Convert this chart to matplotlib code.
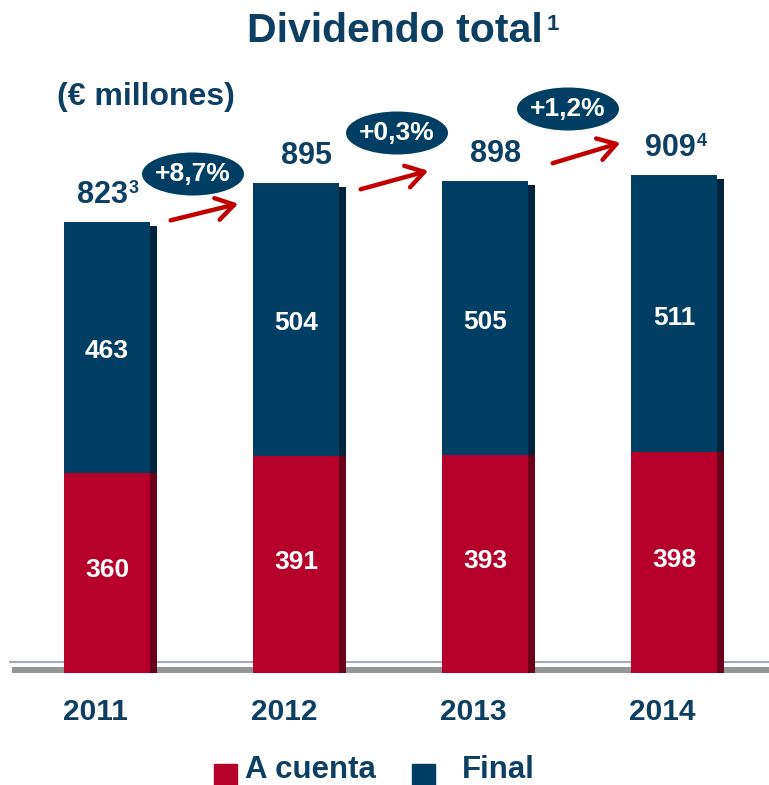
import matplotlib.pyplot as plt
from matplotlib.patches import Ellipse, FancyArrowPatch

plt.rcParams['font.family'] = ['Liberation Sans', 'DejaVu Sans']

years = ['2011', '2012', '2013', '2014']
a_cuenta = [360, 391, 393, 398]
final = [463, 504, 505, 511]
totals = [823, 895, 898, 909]
total_sup = ['3', '', '', '4']
growth = ['+8,7%', '+0,3%', '+1,2%']

RED = '#B5002B'
RED_D = '#6A0019'
BLUE = '#003E64'
BLUE_D = '#00243D'
TXT = '#0D3F63'

W, H = 769, 785
fig = plt.figure(figsize=(W / 100, H / 100), dpi=100)
ax = fig.add_axes([0, 0, 1, 1])
ax.axis('off')

pxu = 189.0            # px per category
ppv = 0.542            # px per value unit
x0 = 107.0             # px of first center
base_px = 668.0        # baseline, px from top
ax.set_xlim(-x0 / pxu, (W - x0) / pxu)
ax.set_ylim(-(H - base_px) / ppv, base_px / ppv)

x = list(range(len(years)))
bw = 0.45
side = 7 / pxu
label_dx = [0, 10, 11, 1]     # px offsets of total labels
year_dx = -12                 # px offset of year labels

# floor
ax.axhline(-(662 - base_px) / ppv, xmin=10 / W, xmax=1, color='#a3abb8', lw=1.5, zorder=1)
ax.fill_between([(-x0 + 12) / pxu, (W - x0) / pxu], -(673 - base_px) / ppv,
                -(667 - base_px) / ppv, color='#959595', lw=0, zorder=1)

# side shading bars
xs = [xi + bw / 2 + side / 2 for xi in x]
ax.bar(xs, [a + 5 / ppv for a in a_cuenta], width=side, bottom=-5 / ppv, color=RED_D, zorder=2)
ax.bar(xs, [f - 4 / ppv for f in final], width=side, bottom=a_cuenta, color=BLUE_D, zorder=2)

ax.bar(x, [a + 5 / ppv for a in a_cuenta], width=bw, bottom=-5 / ppv, color=RED, zorder=3)
ax.bar(x, final, width=bw, bottom=a_cuenta, color=BLUE, zorder=3)

for xi, a, f, t, s in zip(x, a_cuenta, final, totals, total_sup):
    ax.text(xi, a / 2, str(a), ha='center', va='center', color='white',
            fontsize=19, fontweight='bold', zorder=4)
    ax.text(xi, a + f / 2 - 4 / ppv, str(f), ha='center', va='center', color='white',
            fontsize=19, fontweight='bold', zorder=4)
    lx = xi + (label_dx[xi] - (5 if s else 0)) / pxu
    tt = ax.text(lx, t + 12 / ppv, str(t), ha='center', va='bottom',
                 color=TXT, fontsize=22, fontweight='bold', zorder=4)
    if s:
        ax.annotate(s, xy=(1, 1), xycoords=tt, xytext=(1, 0), textcoords='offset points',
                    ha='left', va='top', color=TXT, fontsize=13, fontweight='bold')
    ax.text(xi + year_dx / pxu, -(712 - base_px) / ppv, years[xi], ha='center', va='center',
            color=TXT, fontsize=21.5, fontweight='bold')

# growth bubbles and arrows (positions in px)
bubbles = [(193, 174), (397, 133), (568, 109)]
arrows = [((168, 221), (241, 203)), ((358, 190), (431, 170)), ((550, 164), (623, 142))]

def d(px, py):
    return ((px - x0) / pxu, (base_px - py) / ppv)

for g, (bx, by), (p0, p1) in zip(growth, bubbles, arrows):
    cx, cy = d(bx, by)
    ax.add_patch(Ellipse((cx, cy), 102 / pxu, 43 / ppv, color=BLUE, zorder=5, lw=0))
    ax.text(cx, cy, g, ha='center', va='center', color='white', fontsize=19,
            fontweight='bold', zorder=6)
    ax.add_patch(FancyArrowPatch(d(*p0), d(*p1), arrowstyle='->,head_length=8,head_width=5',
                                 color='#C00000', lw=3.2, zorder=5, mutation_scale=1.6))

fig.text(395 / W, 1 - 31 / H, 'Dividendo total', ha='center', va='center', color=TXT,
         fontsize=29.5, fontweight='bold')
fig.text(547 / W, 1 - 24 / H, '1', ha='left', va='center', color=TXT,
         fontsize=16, fontweight='bold')
fig.text(57 / W, 1 - 97 / H, '(€ millones)', ha='left', va='center', color=TXT,
         fontsize=23, fontweight='bold')

# legend
fig.patches.append(plt.Rectangle((214 / W, 1 - 786 / H), 23 / W, 22 / H, color=RED,
                                 transform=fig.transFigure, figure=fig))
fig.text(245 / W, 1 - 770 / H, 'A cuenta', ha='left', va='center', color=TXT,
         fontsize=22.5, fontweight='bold')
fig.patches.append(plt.Rectangle((412 / W, 1 - 786 / H), 23 / W, 22 / H, color=BLUE,
                                 transform=fig.transFigure, figure=fig))
fig.text(462 / W, 1 - 770 / H, 'Final', ha='left', va='center', color=TXT,
         fontsize=22.5, fontweight='bold')

fig.savefig('out.png', dpi=100)
